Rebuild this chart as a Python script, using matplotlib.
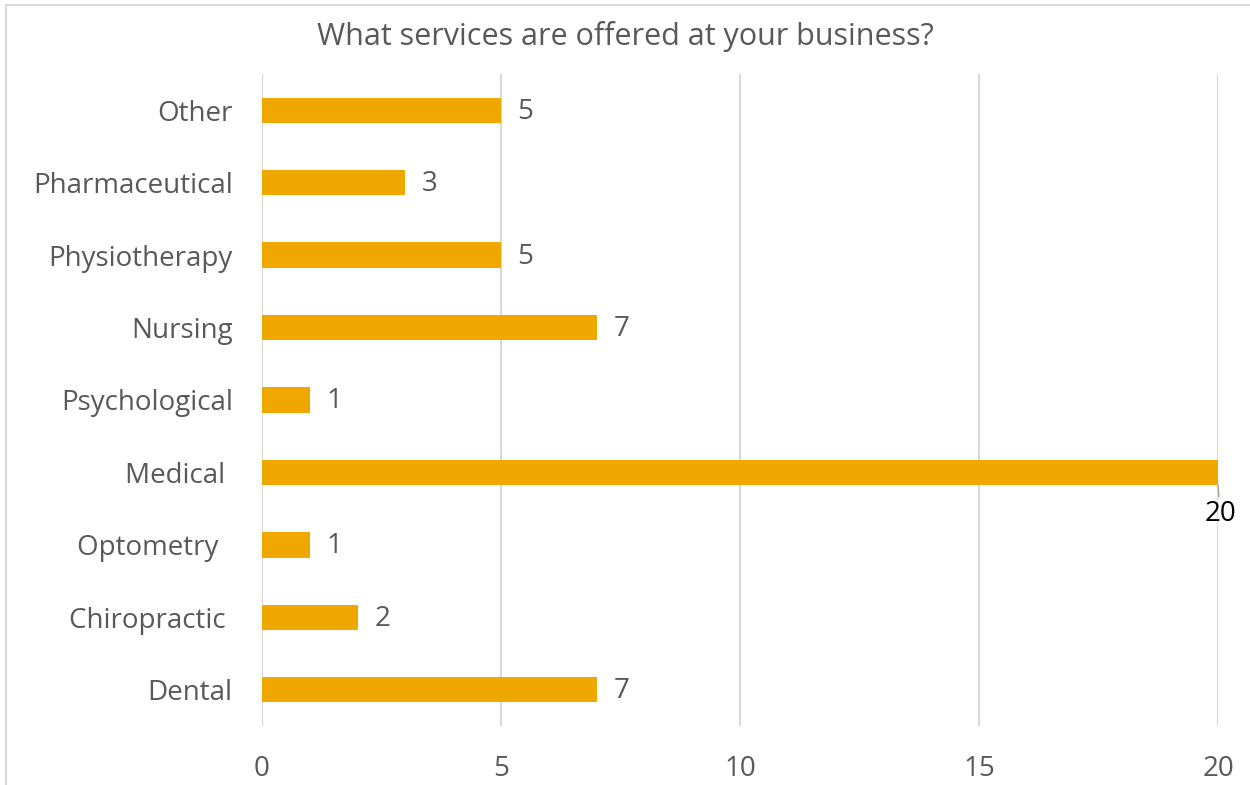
import matplotlib.pyplot as plt
from matplotlib.patches import Rectangle

plt.rcParams['font.family'] = ['Open Sans', 'DejaVu Sans']

services = ['Dental', 'Chiropractic ', 'Optometry  ', 'Medical ', 'Psychological',
            'Nursing', 'Physiotherapy', 'Pharmaceutical', 'Other']
counts = [7, 2, 1, 20, 1, 7, 5, 3, 5]
x_ticks = [0, 5, 10, 15, 20]

bar_color = '#F0A800'
text_color = '#595959'
grid_color = '#d9d9d9'
fs = 20

fig = plt.figure(figsize=(12.5, 7.85), dpi=100)
ax = fig.add_axes([0.2096, 0.0752, 0.7648, 0.8305])

pos = list(range(len(services)))
ax.barh(pos, counts, height=0.35, color=bar_color, zorder=2)

ax.set_xlim(0, 20)
ax.set_ylim(-0.5, len(services) - 0.5)
ax.set_xticks(x_ticks)
ax.set_yticks(pos)
ax.set_yticklabels(services)
ax.tick_params(length=0, labelsize=fs, labelcolor=text_color)
ax.tick_params(axis='x', pad=21)
ax.tick_params(axis='y', pad=21)
for lbl in ax.get_yticklabels():
    lbl.set_va('center_baseline')

for s in ax.spines.values():
    s.set_visible(False)
ax.grid(axis='x', color=grid_color, linewidth=1.5, zorder=0)
ax.set_axisbelow(True)
ax.axvline(0, color=grid_color, linewidth=1.5, zorder=1)

# value labels; the longest bar gets its label below the end with a short leader
for p, v in zip(pos, counts):
    if v == max(counts):
        ax.annotate(str(v), xy=(v, p - 0.17), xytext=(v + 0.05, p - 0.57),
                    ha='center', va='center', fontsize=fs, color='black',
                    arrowprops=dict(arrowstyle='-', color='#a6a6a6', lw=1,
                                    shrinkA=11, shrinkB=0))
    else:
        ax.annotate(str(v), xy=(v, p), xytext=(12, -1), textcoords='offset points',
                    ha='left', va='center', fontsize=fs, color=text_color)

fig.text(0.5, 0.953, 'What services are offered at your business?',
         ha='center', va='center', fontsize=22, color=text_color)

# chart frame, open on the right and bottom edges
fig.patches.append(Rectangle((6 / 1250, -0.1), 1.2, 1.1 - 5 / 785,
                             transform=fig.transFigure, fill=False,
                             edgecolor=grid_color, linewidth=1.5))

fig.savefig('out.png', dpi=100)
